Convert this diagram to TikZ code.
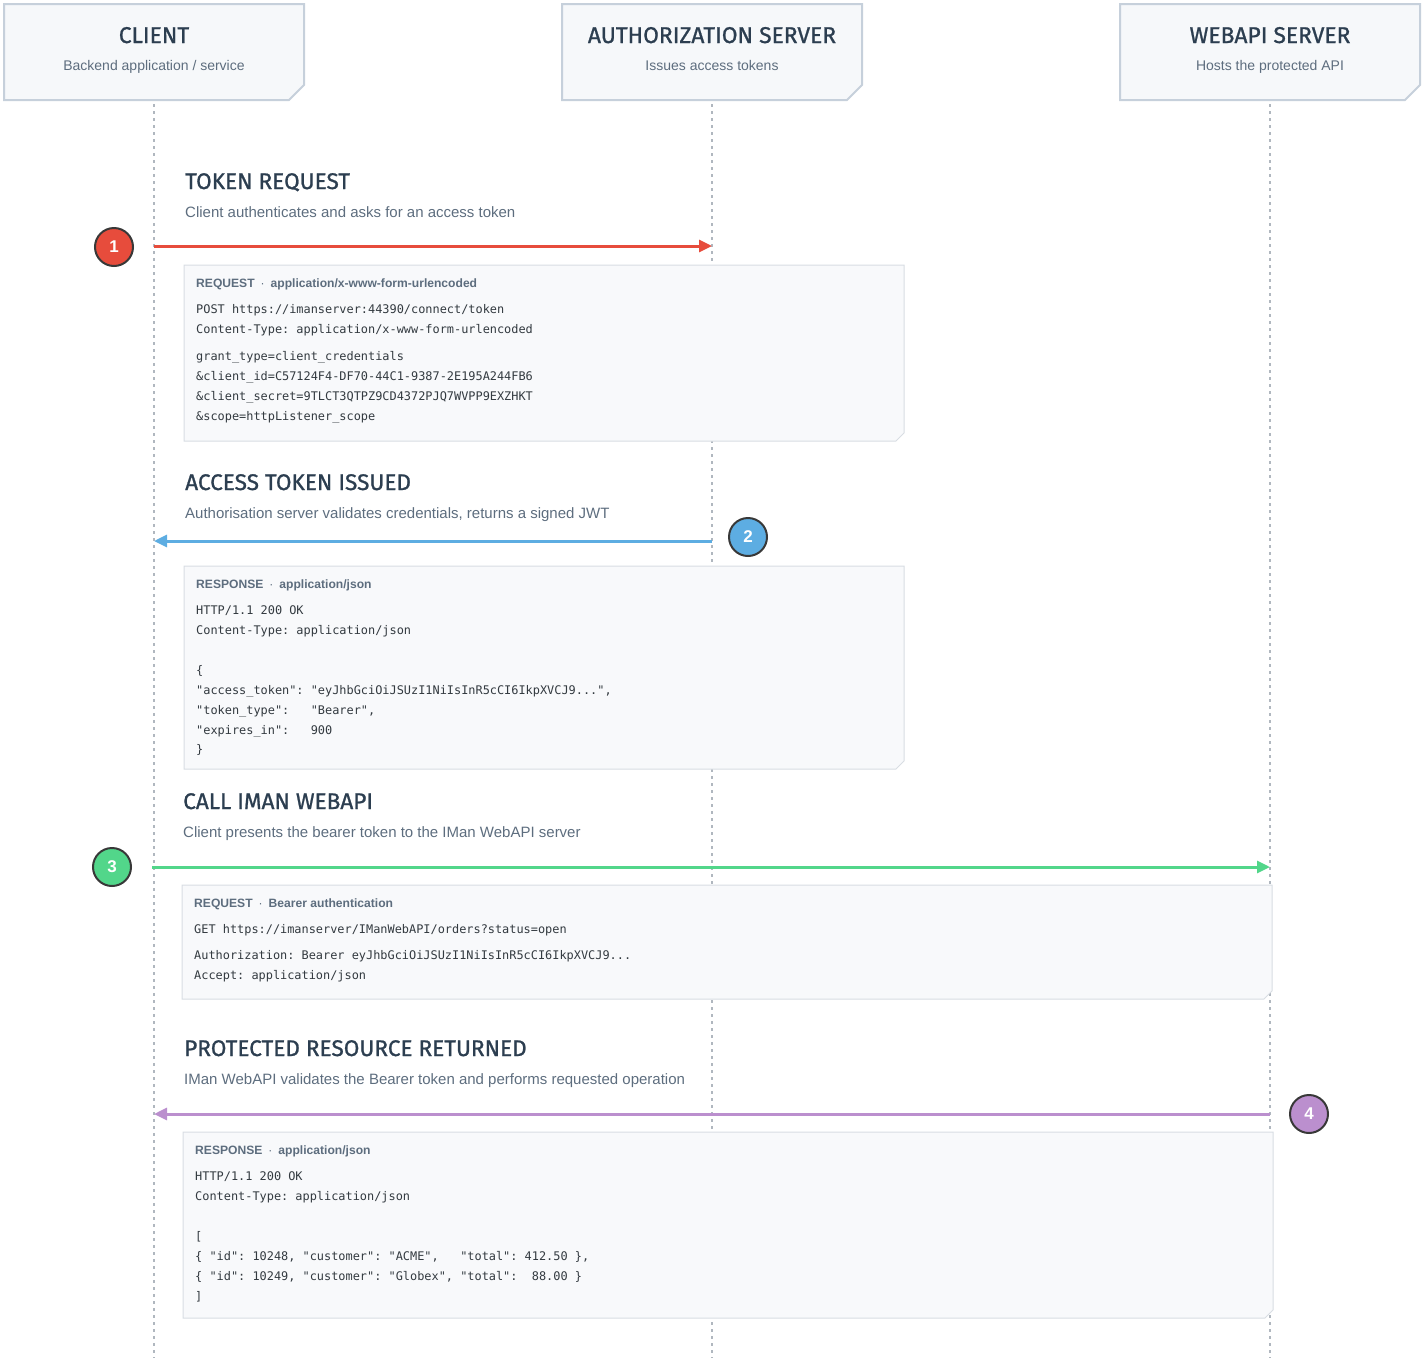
\documentclass[tikz,border=0pt]{standalone}
\usepackage{fontspec}
\setmainfont{Liberation Sans}
\newfontfamily\titlefont{Fira Sans}[FakeBold=1]
\newfontfamily\codefont{DejaVu Sans Mono}
\usetikzlibrary{arrows.meta}
\definecolor{navy}{HTML}{2C3E50}
\definecolor{subgray}{HTML}{5D6D7E}
\definecolor{hdrfill}{HTML}{F6F8FA}
\definecolor{hdrline}{HTML}{C6D0DB}
\definecolor{boxfill}{HTML}{F8F9FB}
\definecolor{boxline}{HTML}{D8DDE3}
\definecolor{lifeln}{HTML}{B0B7BF}
\definecolor{codetxt}{HTML}{333A40}
\definecolor{cred}{HTML}{E74C3C}
\definecolor{cblue}{HTML}{5DADE2}
\definecolor{cgreen}{HTML}{52D68A}
\definecolor{cpurple}{HTML}{BB8FCE}
\newcommand{\lblsep}{\hspace{6pt}{\mdseries·}\hspace{6pt}}
\tikzset{
  hdrbox/.style={draw=hdrline, line width=2pt, fill=hdrfill},
  codebox/.style={draw=boxline, line width=1pt, fill=boxfill},
  lifeline/.style={draw=lifeln, line width=1.5pt, dash pattern=on 3pt off 4pt},
  hdrtitle/.style={font=\titlefont\fontsize{22.8}{26}\selectfont, text=navy, inner sep=0pt, anchor=base},
  hdrsub/.style={font=\fontsize{14}{17}\selectfont, text=subgray, inner sep=0pt, anchor=base},
  sectitle/.style={font=\titlefont\fontsize{22.6}{26}\selectfont, text=navy, inner sep=0pt, anchor=base west},
  secsub/.style={font=\fontsize{15}{18}\selectfont, text=subgray, inner sep=0pt, anchor=base west},
  codelabel/.style={font=\bfseries\fontsize{12.1}{14}\selectfont, text=subgray, inner sep=0pt, anchor=base west},
  codeline/.style={font=\codefont\fontsize{11.9}{14}\selectfont\frenchspacing, text=codetxt, inner sep=0pt, anchor=base west},
  msg/.style={line width=3pt, -{Triangle[length=13pt,width=12pt]}},
  badge/.style={circle, draw=black!78, line width=2pt, minimum size=38pt, inner sep=0pt, text=white, font=\bfseries\fontsize{17}{20}\selectfont},
}
\begin{document}
\begin{tikzpicture}[x=1pt,y=-1pt]
\useasboundingbox (0,0) rectangle (1425,1358);
% lifelines
\coordinate (cTop) at (154,104); \coordinate (cBot) at (154,1358);
\coordinate (aTop) at (712,104); \coordinate (aBot) at (712,1358);
\coordinate (wTop) at (1270,104); \coordinate (wBot) at (1270,1358);
\draw[lifeline] (cTop) -- (cBot);
\draw[lifeline] (aTop) -- (aBot);
\draw[lifeline] (wTop) -- (wBot);
% header boxes
\draw[hdrbox] (4,4) -- (304,4) -- (304,85) -- (289,100) -- (4,100) -- cycle;
\draw[hdrbox] (562,4) -- (862,4) -- (862,85) -- (847,100) -- (562,100) -- cycle;
\draw[hdrbox] (1120,4) -- (1420,4) -- (1420,85) -- (1405,100) -- (1120,100) -- cycle;
\node[hdrtitle] (hc) at (154,43) {CLIENT};
\node[hdrsub] (hcs) at (154,70) {Backend application / service};
\node[hdrtitle] (ha) at (712,43) {AUTHORIZATION SERVER};
\node[hdrsub] (has) at (712,70) {Issues access tokens};
\node[hdrtitle] (hw) at (1270,43) {WEBAPI SERVER};
\node[hdrsub] (hws) at (1270,70) {Hosts the protected API};

% ---------- Step 1
\node[sectitle] (t1) at (185,189) {TOKEN REQUEST};
\node[secsub] (s1) at (185,217) {Client authenticates and asks for an access token};
\coordinate (m1s) at (154,246); \coordinate (m1e) at (712,246);
\draw[msg, cred] (m1s) -- (m1e);
\node[badge, fill=cred] (b1) at (114,247) {1};
\draw[codebox] (184,265) -- (904,265) -- (904,433) -- (896,441) -- (184,441) -- cycle;
\node[codelabel] (l1) at (196,287) {REQUEST\lblsep application/x-www-form-urlencoded};
\node[codeline] (c11) at (196,313) {POST https://imanserver:44390/connect/token};
\node[codeline] (c12) at (196,333) {Content-Type: application/x-www-form-urlencoded};
\node[codeline] (c13) at (196,360) {grant\_type=client\_credentials};
\node[codeline] (c14) at (196,380) {\&client\_id=C57124F4-DF70-44C1-9387-2E195A244FB6};
\node[codeline] (c15) at (196,400) {\&client\_secret=9TLCT3QTPZ9CD4372PJQ7WVPP9EXZHKT};
\node[codeline] (c16) at (196,420) {\&scope=httpListener\_scope};

% ---------- Step 2
\node[sectitle] (t2) at (185,490) {ACCESS TOKEN ISSUED};
\node[secsub] (s2) at (185,518) {Authorisation server validates credentials, returns a signed JWT};
\coordinate (m2s) at (712,541); \coordinate (m2e) at (154,541);
\draw[msg, cblue] (m2s) -- (m2e);
\node[badge, fill=cblue] (b2) at (748,537) {2};
\draw[codebox] (184,566) -- (904,566) -- (904,761) -- (896,769) -- (184,769) -- cycle;
\node[codelabel] (l2) at (196,588) {RESPONSE\lblsep application/json};
\node[codeline] (c21) at (196,614) {HTTP/1.1 200 OK};
\node[codeline] (c22) at (196,634) {Content-Type: application/json};
\node[codeline] (c23) at (196,674) {\{};
\node[codeline] (c24) at (196,694) {"access\_token": "eyJhbGciOiJSUzI1NiIsInR5cCI6IkpXVCJ9...",};
\node[codeline] (c25) at (196,714) {"token\_type":\ \ \ "Bearer",};
\node[codeline] (c26) at (196,734) {"expires\_in":\ \ \ 900};
\node[codeline] (c27) at (196,753) {\}};

% ---------- Step 3
\node[sectitle] (t3) at (183,809) {CALL IMAN WEBAPI};
\node[secsub] (s3) at (183,837) {Client presents the bearer token to the IMan WebAPI server};
\coordinate (m3s) at (152,867); \coordinate (m3e) at (1270,867);
\draw[msg, cgreen] (m3s) -- (m3e);
\node[badge, fill=cgreen] (b3) at (112,867) {3};
\draw[codebox] (182,885) -- (1272,885) -- (1272,991) -- (1264,999) -- (182,999) -- cycle;
\node[codelabel] (l3) at (194,907) {REQUEST\lblsep Bearer authentication};
\node[codeline] (c31) at (194,933) {GET https://imanserver/IManWebAPI/orders?status=open};
\node[codeline] (c32) at (194,959) {Authorization: Bearer eyJhbGciOiJSUzI1NiIsInR5cCI6IkpXVCJ9...};
\node[codeline] (c33) at (194,979) {Accept: application/json};

% ---------- Step 4
\node[sectitle] (t4) at (184,1056) {PROTECTED RESOURCE RETURNED};
\node[secsub] (s4) at (184,1084) {IMan WebAPI validates the Bearer token and performs requested operation};
\coordinate (m4s) at (1270,1114); \coordinate (m4e) at (154,1114);
\draw[msg, cpurple] (m4s) -- (m4e);
\node[badge, fill=cpurple] (b4) at (1309,1114) {4};
\draw[codebox] (183,1132) -- (1273,1132) -- (1273,1310) -- (1265,1318) -- (183,1318) -- cycle;
\node[codelabel] (l4) at (195,1154) {RESPONSE\lblsep application/json};
\node[codeline] (c41) at (195,1180) {HTTP/1.1 200 OK};
\node[codeline] (c42) at (195,1200) {Content-Type: application/json};
\node[codeline] (c43) at (195,1240) {[};
\node[codeline] (c44) at (195,1260) {\{ "id": 10248, "customer": "ACME",\ \ \ "total": 412.50 \},};
\node[codeline] (c45) at (195,1280) {\{ "id": 10249, "customer": "Globex", "total":\ \ 88.00 \}};
\node[codeline] (c46) at (195,1300) {]};
\end{tikzpicture}
\end{document}
